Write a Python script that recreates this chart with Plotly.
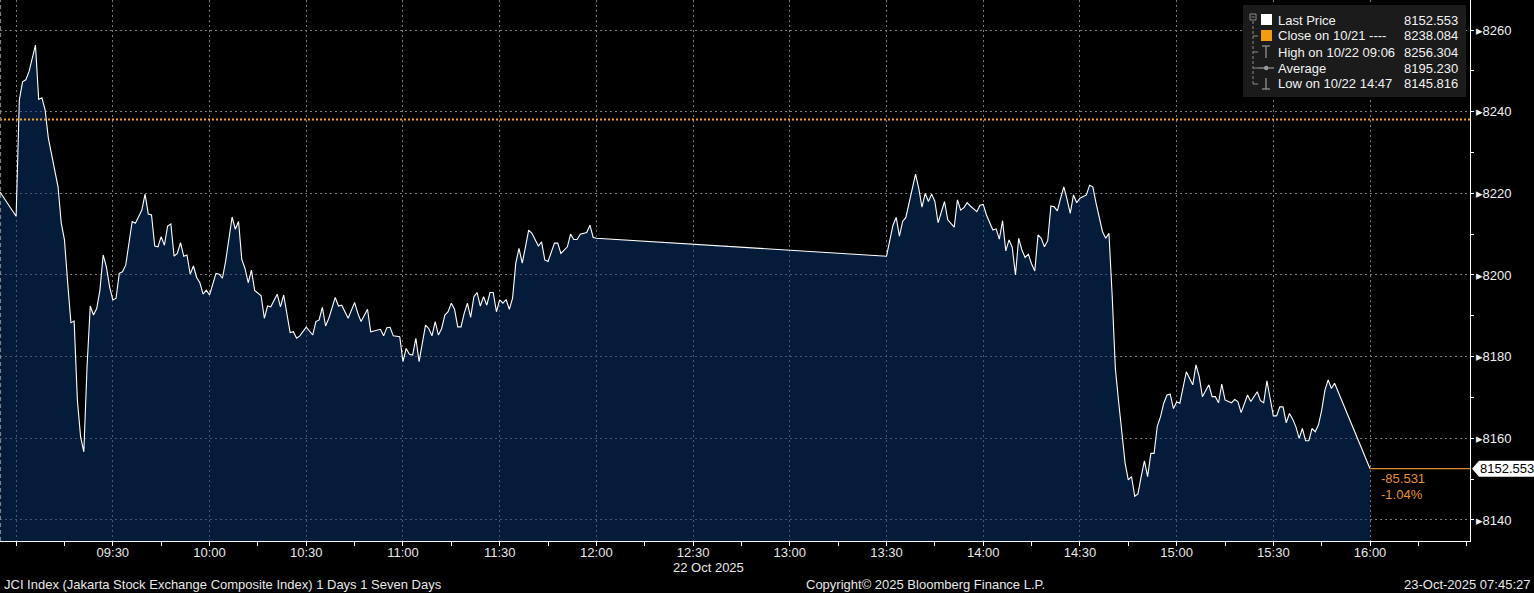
import plotly.graph_objects as go

DAY = "2025-10-22"

# --- intraday prices (JCI) ---
morning_times = [
    "08:55", "09:00", "09:01", "09:02", "09:03", "09:04", "09:06", "09:07", "09:08", "09:09",
    "09:10", "09:12", "09:13", "09:14", "09:15", "09:16", "09:17", "09:18", "09:19", "09:20",
    "09:21", "09:22", "09:23", "09:24", "09:25", "09:26", "09:27", "09:28", "09:29", "09:30",
    "09:31", "09:32", "09:33", "09:34", "09:36", "09:37", "09:38", "09:39", "09:40", "09:41",
    "09:42", "09:43", "09:44", "09:45", "09:46", "09:47", "09:48", "09:49", "09:50", "09:51",
    "09:52", "09:53", "09:54", "09:55", "09:56", "09:57", "09:58", "09:59", "10:00", "10:02",
    "10:03", "10:04", "10:05", "10:07", "10:08", "10:09", "10:10", "10:11", "10:12", "10:13",
    "10:14", "10:16", "10:17", "10:18", "10:19", "10:21", "10:22", "10:23", "10:25", "10:26",
    "10:27", "10:28", "10:30", "10:32", "10:33", "10:34", "10:35", "10:36", "10:37", "10:39",
    "10:40", "10:41", "10:43", "10:45", "10:46", "10:47", "10:49", "10:50", "10:51", "10:53",
    "10:54", "10:55", "10:56", "10:57", "10:59", "11:00", "11:01", "11:02", "11:03", "11:04",
    "11:05", "11:06", "11:07", "11:08", "11:09", "11:10", "11:11", "11:12", "11:13", "11:14",
    "11:15", "11:16", "11:17", "11:18", "11:19", "11:20", "11:21", "11:22", "11:23", "11:24",
    "11:25", "11:26", "11:27", "11:28", "11:29", "11:30", "11:31", "11:32", "11:33", "11:34",
    "11:35", "11:36", "11:37", "11:38", "11:39", "11:40", "11:42", "11:43", "11:44", "11:45",
    "11:47", "11:48", "11:49", "11:51", "11:52", "11:53", "11:54", "11:55", "11:57", "11:58",
    "11:59", "12:00",
]
morning_prices = [
    8220.3, 8214.4, 8242.9, 8247.3, 8247.8, 8249.8, 8256.3, 8243.0, 8243.4, 8240.4,
    8233.5, 8225.7, 8221.6, 8212.7, 8208.6, 8198.0, 8188.3, 8188.7, 8169.4, 8160.4,
    8156.7, 8177.5, 8192.4, 8190.2, 8191.8, 8196.3, 8204.9, 8202.0, 8197.1, 8193.9,
    8194.3, 8200.4, 8200.8, 8202.4, 8213.1, 8212.7, 8214.4, 8215.9, 8219.8, 8214.9,
    8214.7, 8207.1, 8206.9, 8209.4, 8207.3, 8212.0, 8212.5, 8204.6, 8205.3, 8207.9,
    8204.6, 8204.9, 8200.2, 8202.2, 8199.4, 8198.1, 8195.3, 8196.3, 8195.1, 8200.4,
    8200.2, 8199.2, 8203.4, 8214.2, 8211.2, 8213.1, 8203.8, 8201.6, 8198.1, 8201.2,
    8196.2, 8194.9, 8189.4, 8192.4, 8192.2, 8195.3, 8192.2, 8195.1, 8185.9, 8186.1,
    8184.5, 8185.1, 8187.2, 8185.3, 8188.6, 8189.0, 8192.1, 8187.5, 8189.4, 8194.5,
    8192.4, 8192.6, 8189.4, 8193.3, 8190.6, 8188.6, 8191.6, 8186.1, 8186.3, 8186.7,
    8185.1, 8187.1, 8187.2, 8185.1, 8184.9, 8178.8, 8182.0, 8180.6, 8180.4, 8184.5,
    8178.8, 8183.7, 8187.7, 8186.9, 8185.1, 8188.6, 8185.3, 8186.9, 8190.2, 8191.0,
    8193.1, 8191.6, 8187.3, 8187.3, 8190.6, 8193.1, 8189.6, 8194.7, 8195.7, 8192.4,
    8194.7, 8192.6, 8195.7, 8195.7, 8191.0, 8193.9, 8193.1, 8194.0, 8191.6, 8194.3,
    8202.9, 8206.5, 8202.9, 8206.9, 8211.0, 8210.2, 8207.1, 8208.1, 8203.7, 8203.3,
    8207.8, 8207.8, 8205.3, 8206.9, 8210.0, 8208.7, 8208.7, 8210.0, 8210.4, 8212.2,
    8209.2, 8209.0,
]

afternoon_times = [
    "13:30", "13:32", "13:33", "13:34", "13:35", "13:36", "13:37", "13:38", "13:39", "13:40",
    "13:41", "13:42", "13:43", "13:44", "13:45", "13:46", "13:47", "13:48", "13:49", "13:51",
    "13:52", "13:53", "13:54", "13:55", "13:56", "13:57", "13:58", "13:59", "14:00", "14:01",
    "14:03", "14:04", "14:05", "14:06", "14:07", "14:08", "14:09", "14:10", "14:11", "14:12",
    "14:13", "14:14", "14:15", "14:16", "14:17", "14:18", "14:19", "14:20", "14:21", "14:22",
    "14:23", "14:24", "14:25", "14:26", "14:27", "14:28", "14:29", "14:30", "14:31", "14:32",
    "14:33", "14:34", "14:35", "14:36", "14:37", "14:38", "14:39", "14:40", "14:41", "14:42",
    "14:43", "14:44", "14:45", "14:46", "14:47", "14:48", "14:49", "14:50", "14:51", "14:52",
    "14:53", "14:54", "14:55", "14:56", "14:57", "14:58", "14:59", "15:00", "15:01", "15:02",
    "15:03", "15:04", "15:05", "15:06", "15:07", "15:08", "15:09", "15:10", "15:11", "15:12",
    "15:13", "15:14", "15:15", "15:16", "15:17", "15:18", "15:19", "15:20", "15:21", "15:22",
    "15:23", "15:24", "15:25", "15:26", "15:27", "15:28", "15:29", "15:30", "15:31", "15:32",
    "15:33", "15:34", "15:35", "15:36", "15:37", "15:38", "15:39", "15:40", "15:41", "15:42",
    "15:43", "15:44", "15:45", "15:46", "15:47", "15:48", "15:49", "16:00",
]
afternoon_prices = [
    8204.6, 8212.2, 8214.1, 8209.5, 8213.1, 8214.1, 8217.6, 8221.6, 8224.7, 8221.2,
    8216.6, 8220.0, 8218.0, 8219.8, 8218.0, 8212.8, 8215.5, 8218.0, 8213.5, 8211.7,
    8218.4, 8215.9, 8216.5, 8217.7, 8216.9, 8216.3, 8215.5, 8217.1, 8217.3, 8214.7,
    8211.0, 8211.3, 8208.8, 8213.3, 8205.9, 8208.6, 8206.8, 8200.0, 8209.0, 8206.1,
    8204.3, 8205.1, 8202.7, 8201.0, 8209.8, 8209.0, 8206.9, 8208.4, 8216.9, 8216.7,
    8215.7, 8218.8, 8221.6, 8218.5, 8215.1, 8219.6, 8217.7, 8218.8, 8219.2, 8219.6,
    8222.0, 8221.6, 8217.6, 8214.3, 8210.6, 8209.0, 8210.2, 8195.0, 8177.0, 8169.0,
    8161.0, 8154.0, 8149.8, 8150.6, 8145.8, 8146.4, 8150.6, 8154.5, 8150.6, 8156.3,
    8156.3, 8163.0, 8165.3, 8168.6, 8170.6, 8170.8, 8167.3, 8168.9, 8168.6, 8172.2,
    8176.3, 8174.7, 8173.1, 8178.0, 8175.1, 8170.2, 8171.8, 8173.1, 8170.2, 8170.2,
    8168.7, 8173.3, 8169.4, 8169.0, 8168.7, 8169.5, 8169.0, 8166.3, 8168.6, 8170.6,
    8169.0, 8170.2, 8171.4, 8169.2, 8168.7, 8174.1, 8170.2, 8165.5, 8165.5, 8167.7,
    8167.7, 8163.8, 8166.1, 8164.7, 8162.8, 8160.0, 8162.4, 8159.4, 8159.4, 8162.4,
    8161.6, 8163.3, 8166.9, 8171.8, 8174.3, 8172.2, 8173.5, 8152.553,
]

prev_close = 8238.084
last_price = 8152.553
high_price = 8256.304
low_price = 8145.816
avg_price = 8195.230

x_ticks = ["09:00", "09:30", "10:00", "10:30", "11:00", "11:30", "12:00", "12:30",
           "13:00", "13:30", "14:00", "14:30", "15:00", "15:30", "16:00"]
x_tick_labels = [""] + x_ticks[1:]
y_ticks = [8140, 8160, 8180, 8200, 8220, 8240, 8260]

legend_labels = ["Last Price", "Close on 10/21 ----", "High on 10/22 09:06",
                 "Average", "Low on 10/22 14:47"]
legend_values = [last_price, prev_close, high_price, avg_price, low_price]

# --- layout helpers (pixel -> paper) ---
W, H = 1534, 593
ML, MR, MT, MB = 0, 64, 0, 52
PW, PH = W - ML - MR, H - MT - MB
FONT = "Liberation Sans"
TXT = "#e8e8e8"
ORANGE = "#f2a12a"


def px(x):
    return (x - ML) / PW


def py(y):
    return 1 - (y - MT) / PH


def ts(t):
    return f"{DAY} {t}"


times = [ts(t) for t in morning_times + afternoon_times]
prices = morning_prices + afternoon_prices

fig = go.Figure()
fig.add_trace(go.Scatter(
    x=times, y=prices, mode="lines",
    line=dict(color="white", width=1.1),
    fill="tozeroy", fillcolor="rgba(8,56,116,0.5)",
    hoverinfo="x+y", showlegend=False,
))

shapes = []
annotations = []

# previous close (dotted orange) and last price line
shapes.append(dict(type="line", xref="paper", yref="y", x0=0, x1=1,
                   y0=prev_close, y1=prev_close, layer="above",
                   line=dict(color=ORANGE, width=2, dash="2px,2px")))
shapes.append(dict(type="line", xref="x", yref="y", x0=ts("16:00"), x1=ts("16:31"),
                   y0=last_price, y1=last_price, layer="above",
                   line=dict(color="#e0892a", width=1.2)))
# left session separator
shapes.append(dict(type="line", xref="paper", yref="paper", x0=0.0004, x1=0.0004,
                   y0=0, y1=1, line=dict(color="#8a8a8a", width=1, dash="4px,3px")))

change = last_price - prev_close
pct = change / prev_close * 100
for txt, dy in [(f"{change:.3f}", -10), (f"{pct:.2f}%", -26)]:
    annotations.append(dict(x=ts("16:00"), y=last_price, xref="x", yref="y",
                            text=txt, showarrow=False, xanchor="left",
                            yanchor="middle", xshift=9, yshift=dy,
                            font=dict(family=FONT, size=13, color="#e8902c")))

# last price tag on the right axis
shapes.append(dict(type="path", xref="paper", yref="y", xanchor=1, yanchor=last_price,
                   xsizemode="pixel", ysizemode="pixel",
                   path="M 2 0 L 9 8 L 64 8 L 64 -8 L 9 -8 Z",
                   fillcolor="white", line=dict(width=0), layer="above"))
annotations.append(dict(x=1, y=last_price, xref="paper", yref="y",
                        text=f"{last_price:.3f}", showarrow=False, xanchor="left",
                        yanchor="middle", xshift=8,
                        font=dict(family=FONT, size=13, color="black")))

# legend box
shapes.append(dict(type="rect", xref="paper", yref="paper",
                   x0=px(1243), x1=px(1466), y0=py(97), y1=py(5),
                   fillcolor="#1b1b1b", line=dict(width=0), layer="above"))
TREE = "#8c8c8c"
shapes.append(dict(type="rect", xref="paper", yref="paper",
                   x0=px(1250), x1=px(1256), y0=py(20), y1=py(14),
                   line=dict(color=TREE, width=1), layer="above"))
shapes.append(dict(type="line", xref="paper", yref="paper",
                   x0=px(1251.5), x1=px(1254.5), y0=py(17), y1=py(17),
                   line=dict(color=TREE, width=1), layer="above"))
shapes.append(dict(type="line", xref="paper", yref="paper",
                   x0=px(1253), x1=px(1253), y0=py(84), y1=py(20),
                   line=dict(color=TREE, width=1, dash="3px,2px"), layer="above"))
for i in range(1, len(legend_labels)):
    ry = 20 + 16 * i
    shapes.append(dict(type="line", xref="paper", yref="paper",
                       x0=px(1253), x1=px(1258), y0=py(ry), y1=py(ry),
                       line=dict(color=TREE, width=1), layer="above"))
# icons
shapes.append(dict(type="rect", xref="paper", yref="paper",
                   x0=px(1261), x1=px(1272), y0=py(25), y1=py(14),
                   fillcolor="white", line=dict(width=0), layer="above"))
shapes.append(dict(type="rect", xref="paper", yref="paper",
                   x0=px(1261), x1=px(1272), y0=py(41), y1=py(30),
                   fillcolor="#f39c12", line=dict(width=0), layer="above"))
ICON = "#9a9a9a"
for seg in [((1262, 46), (1270, 46)), ((1266, 46), (1266, 58)),
            ((1262, 89), (1270, 89)), ((1266, 78), (1266, 89)),
            ((1258, 68), (1274, 68))]:
    (xa, ya), (xb, yb) = seg
    shapes.append(dict(type="line", xref="paper", yref="paper",
                       x0=px(xa), x1=px(xb), y0=py(ya), y1=py(yb),
                       line=dict(color=ICON, width=1.2), layer="above"))
shapes.append(dict(type="circle", xref="paper", yref="paper",
                   x0=px(1264), x1=px(1268.5), y0=py(70.2), y1=py(65.8),
                   fillcolor=ICON, line=dict(width=0), layer="above"))

for i, (label, value) in enumerate(zip(legend_labels, legend_values)):
    ry = 20 + 16 * i
    annotations.append(dict(x=px(1276), y=py(ry), xref="paper", yref="paper",
                            text=label, showarrow=False, xanchor="left", yanchor="middle",
                            font=dict(family=FONT, size=13, color="#f2f2f2")))
    annotations.append(dict(x=px(1460), y=py(ry), xref="paper", yref="paper",
                            text=f"{value:.3f}", showarrow=False, xanchor="right",
                            yanchor="middle",
                            font=dict(family=FONT, size=13, color="#f2f2f2")))

# date under the time axis and footer
annotations.append(dict(x=px(708), y=py(567), xref="paper", yref="paper",
                        text="22 Oct 2025", showarrow=False, xanchor="center",
                        yanchor="middle", font=dict(family=FONT, size=13, color=TXT)))
annotations.append(dict(x=px(2), y=py(584), xref="paper", yref="paper",
                        text="JCI Index (Jakarta Stock Exchange Composite Index) 1 Days 1 Seven Days",
                        showarrow=False, xanchor="left", yanchor="middle",
                        font=dict(family=FONT, size=13, color=TXT)))
annotations.append(dict(x=px(925), y=py(584), xref="paper", yref="paper",
                        text="Copyright\u00a9 2025 Bloomberg Finance L.P.",
                        showarrow=False, xanchor="center", yanchor="middle",
                        font=dict(family=FONT, size=13, color=TXT)))
annotations.append(dict(x=px(1532), y=py(584), xref="paper", yref="paper",
                        text="23-Oct-2025 07:45:27",
                        showarrow=False, xanchor="right", yanchor="middle",
                        font=dict(family=FONT, size=13, color=TXT)))

GRID = "#7a7a7a"
fig.update_layout(
    width=W, height=H,
    margin=dict(l=ML, r=MR, t=MT, b=MB),
    paper_bgcolor="black", plot_bgcolor="black",
    font=dict(family=FONT, size=13, color=TXT),
    showlegend=False,
    shapes=shapes, annotations=annotations,
    xaxis=dict(
        type="date", range=[ts("08:55"), ts("16:31")],
        tickmode="array", tickvals=[ts(t) for t in x_ticks], ticktext=x_tick_labels,
        showgrid=True, gridcolor=GRID, gridwidth=1, griddash="2px,3px",
        showline=True, linecolor="white", linewidth=1,
        ticks="outside", ticklen=4, tickcolor="white",
        minor=dict(tickmode="linear", tick0=ts("09:00"), dtick=15 * 60 * 1000,
                   ticks="outside", ticklen=4, tickcolor="white", showgrid=False),
        tickfont=dict(family=FONT, size=13, color=TXT),
        ticklabelstandoff=-5,
        zeroline=False, fixedrange=True,
    ),
    yaxis=dict(
        side="right", range=[8134.85, 8267.35],
        tickmode="array", tickvals=y_ticks, ticktext=[f"\u25b8{v}" for v in y_ticks],
        showgrid=True, gridcolor=GRID, gridwidth=1, griddash="2px,3px",
        showline=True, linecolor="white", linewidth=1,
        ticks="outside", ticklen=3, tickcolor="white",
        minor=dict(tickmode="linear", tick0=8130, dtick=10,
                   ticks="outside", ticklen=3, tickcolor="white", showgrid=False),
        tickfont=dict(family=FONT, size=13, color="#f0f0f0"),
        ticklabelstandoff=-1,
        zeroline=False, fixedrange=True,
    ),
)

fig.write_html("out.html", config={"displayModeBar": False},
               post_script="document.body.style.margin='0';")
